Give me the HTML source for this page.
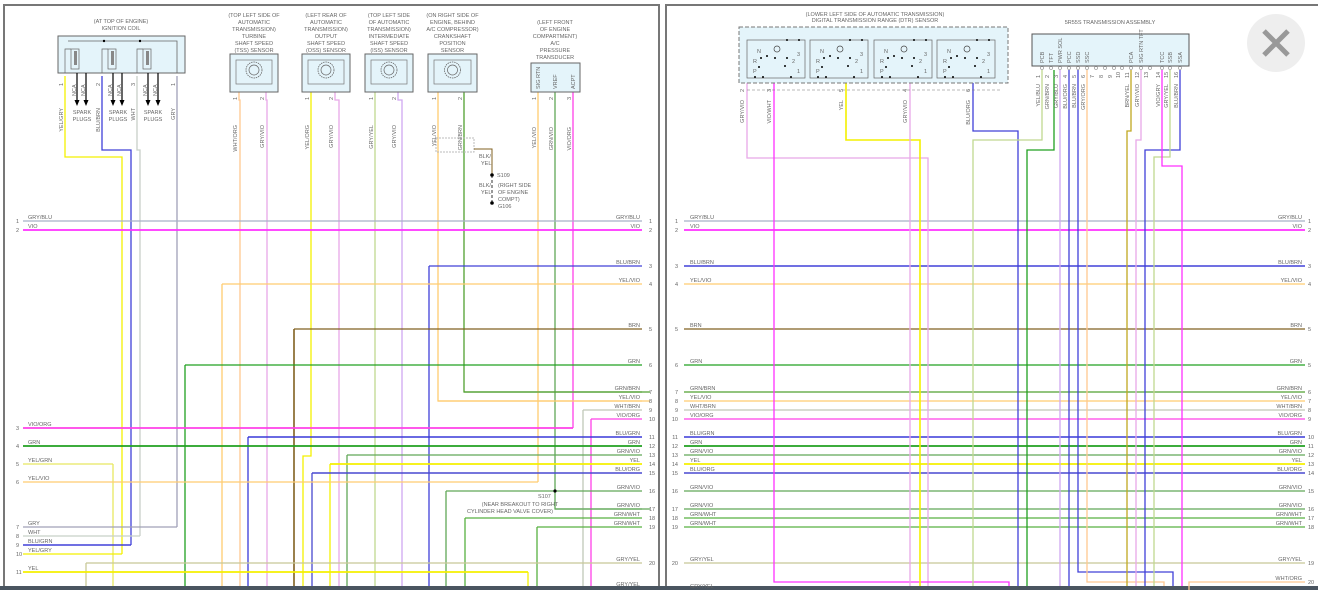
<!DOCTYPE html>
<html><head><meta charset="utf-8"><style>
html,body{margin:0;padding:0;background:#fff;width:1318px;height:590px;overflow:hidden}
svg{display:block}
text{font-family:"Liberation Sans",sans-serif;font-size:5.5px;fill:#666}
</style></head><body>
<svg id="s" width="1318" height="590" viewBox="0 0 1318 590" xmlns="http://www.w3.org/2000/svg">
<rect x="0" y="0" width="1318" height="590" fill="#fff"/>
<!-- panel borders -->
<rect x="4" y="5" width="655" height="583" fill="none" stroke="#777" stroke-width="2"/>
<rect x="666" y="5" width="660" height="583" fill="none" stroke="#777" stroke-width="2"/>
<rect x="0" y="586" width="1318" height="4" fill="#4a5560"/>
<!-- close button -->
<circle cx="1276" cy="43" r="29" fill="#eeeeee"/>
<path d="M1264 31 L1288 55 M1288 31 L1264 55" stroke="#999" stroke-width="5"/>
<g id="g"></g>
</svg>
<script>
const g=document.getElementById('g');const NS='http://www.w3.org/2000/svg';
function el(t,a,txt){const e=document.createElementNS(NS,t);for(const k in a)e.setAttribute(k,a[k]);if(txt!==undefined)e.textContent=txt;g.appendChild(e);return e;}
function P(pts,c,w,d){el('polyline',{points:pts,fill:'none',stroke:c,'stroke-width':w||1.3,'stroke-dasharray':d||''});}
function T(x,y,s,anc,rot){const a={x:x,y:y};if(anc)a['text-anchor']=anc;if(rot)a.transform='rotate(-90 '+x+' '+y+')';el('text',a,s);}
const C={GB:'#a8b0c8',VIO:'#ff30ff',BB:'#4040d8',YV:'#ffcc70',BRN:'#806020',GRN:'#20a020',GBN:'#50a030',WB:'#c0c8b8',VO:'#ff40e8',BG:'#3838d8',GV:'#60a858',YEL:'#f4f000',BO:'#4848d0',GW:'#58b040',GY:'#c8c898',GRY:'#a0a0b8',WHT:'#c8d0c8',YG:'#e8e860',PK:'#e8a8e8',LG:'#c0d890',LV:'#d0a8f0',LO:'#ffc890'};
// ---- LEFT PANEL verticals ----
P('65,76 65,157 122,157 122,554',C.YEL);
P('102,76 102,150 131,150 131,545',C.BB);
P('137,76 137,150 140,150 140,536',C.WHT);
P('177,76 177,527',C.GRY);
P('185,365 185,586',C.GRN);
P('222,284 222,586',C.YV);
P('239,92 239,100 240,100 240,586',C.LO);
P('266,92 266,100 267,100 267,586',C.PK);
P('294,329 294,586',C.BRN,1.6);
P('311,92 311,456 303,456 303,586',C.YEL);
P('312,473 312,586',C.BO);
P('335,92 335,100 339,100 339,586',C.PK);
P('330,464 330,586',C.YEL);
P('347,455 347,586',C.GV);
P('375,92 375,586',C.LG);
P('398,92 398,100 402,100 402,586',C.LV);
P('429,266 429,586',C.BB);
P('438,92 438,401 650,401',C.YV);
P('464,92 464,392 650,392',C.GBN);
P('446,491 446,586',C.GV);
P('465,518 465,586',C.GW);
P('528,572 528,586',C.YEL);
P('538,92 538,482',C.YV);
P('537,527 537,586',C.GW);
P('555,92 555,509 650,509',C.GV);
P('573,92 573,428',C.VO);
P('583,410 583,586',C.WB);
P('591,419 591,586',C.VO);
P('248,437 248,586',C.BG);
P('86,563 86,586',C.GY);
P('113,464 113,586',C.YG);
// ---- LEFT horizontals right-labeled ----
const LR=[[23,221,'GRY/BLU',C.GB,'1',1.3],[23,230,'VIO',C.VIO,'2',1.8],[429,266,'BLU/BRN',C.BB,'3'],[222,284,'YEL/VIO',C.YV,'4'],[294,329,'BRN',C.BRN,'5'],[185,365,'GRN',C.GRN,'6'],
[464,392,'GRN/BRN',C.GBN,'7'],[438,401,'YEL/VIO',C.YV,'8'],[583,410,'WHT/BRN',C.WB,'9'],[591,419,'VIO/ORG',C.VO,'10'],[248,437,'BLU/GRN',C.BG,'11',1.6],[23,446,'GRN',C.GRN,'12',1.8],[347,455,'GRN/VIO',C.GV,'13'],[330,464,'YEL',C.YEL,'14',1.8],[312,473,'BLU/ORG',C.BO,'15',1.6],[446,491,'GRN/VIO',C.GV,'16'],[555,509,'GRN/VIO',C.GV,'17'],[465,518,'GRN/WHT',C.GW,'18'],[537,527,'GRN/WHT',C.GW,'19'],[86,563,'GRY/YEL',C.GY,'20']];
LR.forEach(r=>{P(r[0]+','+r[1]+' 642,'+r[1],r[3],r[5]||1.3);T(640,r[1]-2,r[2],'end');T(649,r[1]+2,r[4]);});
T(640,586,'GRY/YEL','end');
const LL=[[573,428,'VIO/ORG',C.VO,'3',1.8],[113,464,'YEL/GRN',C.YG,'5'],[538,482,'YEL/VIO',C.YV,'6'],[177,527,'GRY',C.GRY,'7'],[140,536,'WHT',C.WHT,'8'],[131,545,'BLU/GRN',C.BB,'9',1.6],[122,554,'YEL/GRY',C.YEL,'10'],[528,572,'YEL',C.YEL,'11',1.8]];
LL.forEach(r=>{P('23,'+r[1]+' '+r[0]+','+r[1],r[3],r[5]||1.3);T(28,r[1]-2,r[2]);T(16,r[1]+2,r[4]);});
T(28,219,'GRY/BLU');T(16,223,'1');T(28,228,'VIO');T(16,232,'2');T(28,444,'GRN');T(16,448,'4');
// S107
el('circle',{cx:555,cy:491,r:1.6,fill:'#000'});T(538,498,'S107');T(520,506,'(NEAR BREAKOUT TO RIGHT','middle');T(510,513,'CYLINDER HEAD VALVE COVER)','middle');
// S109 area
el('rect',{x:436,y:138,width:38,height:14,fill:'none',stroke:'#bbb','stroke-dasharray':'2,1'});
P('474,149 492,149 492,175',C.BRN,1);P('492,175 492,203','#333',1,'3,2');
el('circle',{cx:492,cy:175,r:1.8,fill:'#000'});el('circle',{cx:492,cy:203,r:1.8,fill:'#000'});
T(479,158,'BLK/');T(481,165,'YEL');T(497,177,'S109');T(479,187,'BLK/');T(481,194,'YEL');T(498,187,'(RIGHT SIDE');T(498,194,'OF ENGINE');T(498,201,'COMPT)');T(498,208,'G106');
// coil
T(121,23,'(AT TOP OF ENGINE)','middle');T(121,30,'IGNITION COIL','middle');
el('rect',{x:58,y:36,width:127,height:37,fill:'#e4f4fa',stroke:'#666','stroke-width':1});
P('68,41 177,41 177,73','#666',0.8);
[[65,104],[102,125],[137,140]].forEach(c=>{const x=c[0];el('rect',{x:x+6,y:49,width:8,height:20,fill:'none',stroke:'#666','stroke-width':0.7});P(x+',73 '+x+',49 '+(x+6)+',49','#666',0.7);el('rect',{x:x+9,y:51,width:3,height:14,fill:'#888'});});
el('circle',{cx:104,cy:41,r:1.2,fill:'#000'});el('circle',{cx:140,cy:41,r:1.2,fill:'#000'});
[[65,'YEL/GRY','1'],[102,'BLU/BRN','2'],[137,'WHT','3'],[177,'GRY','1']].forEach(p=>{T(p[0]-2,86,p[2],'',1);T(p[0]-2,108,p[1],'end',1);});
[77,86,113,122,148,158].forEach(x=>{P(x+',73 '+x+',101','#000',1.2);el('polygon',{points:(x-2.5)+',100 '+(x+2.5)+',100 '+x+',106',fill:'#000'});T(x-1,96,'NCA','',1);});
[[82,'SPARK'],[118,'SPARK'],[153,'SPARK']].forEach(p=>{T(p[0],114,p[1],'middle');T(p[0],121,'PLUGS','middle');});
// sensors
function sensor(x1,x2,lines,pins,labs){const cx=(x1+x2)/2;lines.forEach((l,i)=>T(cx,17+i*7,l,'middle'));el('rect',{x:x1,y:54,width:x2-x1,height:38,fill:'#e4f4fa',stroke:'#666','stroke-width':1});
el('rect',{x:x1+6,y:60,width:x2-x1-12,height:24,fill:'none',stroke:'#777','stroke-width':0.7});el('circle',{cx:cx,cy:70,r:8,fill:'none',stroke:'#666','stroke-width':0.8,'stroke-dasharray':'1.5,0.8'});el('circle',{cx:cx,cy:70,r:5,fill:'none',stroke:'#666','stroke-width':0.7});
pins.forEach((p,i)=>{T(p-2,100,''+(i+1),'',1);T(p-2,125,labs[i],'end',1);});}
sensor(230,278,['(TOP LEFT SIDE OF','AUTOMATIC','TRANSMISSION)','TURBINE','SHAFT SPEED','(TSS) SENSOR'].slice(0),[239,266],['WHT/ORG','GRY/VIO']);
sensor(302,350,['(LEFT REAR OF','AUTOMATIC','TRANSMISSION)','OUTPUT','SHAFT SPEED','(OSS) SENSOR'],[311,335],['YEL/ORG','GRY/VIO']);
sensor(365,413,['(TOP LEFT SIDE','OF AUTOMATIC','TRANSMISSION)','INTERMEDIATE','SHAFT SPEED','(ISS) SENSOR'],[375,398],['GRY/YEL','GRY/VIO']);
sensor(428,477,['(ON RIGHT SIDE OF','ENGINE, BEHIND','A/C COMPRESSOR)','CRANKSHAFT','POSITION','SENSOR'],[438,464],['YEL/VIO','GRN/BRN']);
[[555,'(LEFT FRONT',24],[555,'OF ENGINE',31],[555,'COMPARTMENT)',38],[555,'A/C',45],[555,'PRESSURE',52],[555,'TRANSDUCER',59]].forEach(t=>T(t[0],t[2],t[1],'middle'));
el('rect',{x:531,y:63,width:49,height:29,fill:'#e4f4fa',stroke:'#666','stroke-width':1});
[[538,'SIG RTN','YEL/VIO'],[555,'VREF','GRN/VIO'],[573,'ACPT','VIO/ORG']].forEach((p,i)=>{T(p[0]+2,89,p[1],'',1);T(p[0]-2,100,''+(i+1),'',1);T(p[0]-2,127,p[2],'end',1);});
// ---- RIGHT PANEL ----
const RR=[[221,'GRY/BLU',C.GB,'1','1',1.3],[230,'VIO',C.VIO,'2','2',1.8],[266,'BLU/BRN',C.BB,'3','3',1.6],[284,'YEL/VIO',C.YV,'4','4'],[329,'BRN',C.BRN,'5','5'],[365,'GRN',C.GRN,'6','5'],
[392,'GRN/BRN',C.GBN,'7','6'],[401,'YEL/VIO',C.YV,'8','7'],[410,'WHT/BRN',C.WB,'9','8'],[419,'VIO/ORG',C.VO,'10','9'],[437,'BLU/GRN',C.BG,'11','10',1.6],[446,'GRN',C.GRN,'12','11',1.8],[455,'GRN/VIO',C.GV,'13','12'],[464,'YEL',C.YEL,'14','13',1.8],[473,'BLU/ORG',C.BO,'15','14',1.6],[491,'GRN/VIO',C.GV,'16','15'],[509,'GRN/VIO',C.GV,'17','16'],[518,'GRN/WHT',C.GW,'18','17'],[527,'GRN/WHT',C.GW,'19','18'],[563,'GRY/YEL',C.GY,'20','19']];
RR.forEach(r=>{P('684,'+r[0]+' 1305,'+r[0],r[2],r[5]||1.3);T(690,r[0]-2,r[1]);T(678,r[0]+2,r[3],'end');T(1302,r[0]-2,r[1],'end');T(1308,r[0]+2,r[4]);});
P('1189,590 1189,582 1305,582',C.LO);T(1302,580,'WHT/ORG','end');T(1308,584,'20');T(690,588,'GRY/YEL');
// right verticals
P('747,83 747,158 928,158 928,586',C.PK);
P('774,83 774,582 1009,582 1009,586',C.VIO);
P('846,83 846,140 920,140 920,586',C.YEL,1.6);
P('910,83 910,586',C.PK);
P('973,83 973,131 1018,131 1018,586',C.BB);
P('1042,70 1042,140 973,140 973,586',C.LG);
P('1054,70 1054,150 1027,150 1027,586',C.GRN);
P('1060,70 1060,586',C.LV);
P('1069,70 1069,586',C.BB);
P('1078,70 1078,572 1173,572 1173,586',C.BB);
P('1087,70 1087,582 1164,582 1164,586',C.LO);
P('1131,70 1131,131 1127,131 1127,586','#c0a820');
P('1141,70 1141,140 1136,140 1136,586',C.PK);
P('1180,70 1180,150 1145,150 1145,586',C.BB);
P('1170,70 1170,157 1154,157 1154,586',C.LG);
P('1162,70 1162,166 1182,166 1182,586',C.VIO);
// DTR box
T(875,16,'(LOWER LEFT SIDE OF AUTOMATIC TRANSMISSION)','middle');T(875,22,'DIGITAL TRANSMISSION RANGE (DTR) SENSOR','middle');
el('rect',{x:739,y:27,width:269,height:56,fill:'#e4f4fa',stroke:'#777','stroke-dasharray':'4,2'});
[747,810,874,937].forEach(x=>{el('rect',{x:x,y:40,width:58,height:38,fill:'none',stroke:'#666','stroke-width':0.7});T(x+10,53,'N');T(x+6,63,'R');T(x+6,73,'P');T(x+50,56,'3');T(x+45,63,'2');T(x+50,73,'1');el('circle',{cx:x+30,cy:49,r:3,fill:'none',stroke:'#444','stroke-width':0.7});
[[x+14,58],[x+20,56],[x+28,58],[x+40,58],[x+12,67],[x+38,66],[x+8,77],[x+16,77],[x+44,77],[x+52,40],[x+40,40]].forEach(p=>el('circle',{cx:p[0],cy:p[1],r:1,fill:'#000'}));});
P('747,90 1000,90','#777',0.6,'3,2');
[[747,'2','GRY/VIO'],[774,'3','VIO/WHT'],[846,'5','YEL'],[910,'4','GRY/VIO'],[973,'6','BLU/ORG']].forEach(p=>{T(p[0]-3,92,p[1],'',1);T(p[0]-3,100,p[2],'end',1);});
// transmission assembly
T(1110,24,'5R55S TRANSMISSION ASSEMBLY','middle');
el('rect',{x:1032,y:34,width:157,height:32,fill:'#e4f4fa',stroke:'#555','stroke-width':1});
const tp=[[1042,'PCB','YEL/BLU'],[1051,'TFT','GRN/BRN'],[1060,'PWR SOL','GRY/BLU'],[1069,'PCC','BLU/ORG'],[1078,'SSD','BLU/BRN'],[1087,'SSC','GRY/ORG'],[1096,'',''],[1105,'',''],[1114,'',''],[1122,'',''],[1131,'PCA','BRN/YEL'],[1141,'SIG RTN TFT','GRY/VIO'],[1150,'',''],[1162,'TCC','VIO/GRY'],[1170,'SSB','GRY/YEL'],[1180,'SSA','BLU/BRN']];
tp.forEach((p,i)=>{if(p[1])T(p[0]+2,63,p[1],'',1);T(p[0]-2,78,''+(i+1),'',1);if(p[2])T(p[0]-2,84,p[2],'end',1);el('circle',{cx:p[0],cy:68,r:1.5,fill:'none',stroke:'#888','stroke-width':0.6});});
</script>
</body></html>
